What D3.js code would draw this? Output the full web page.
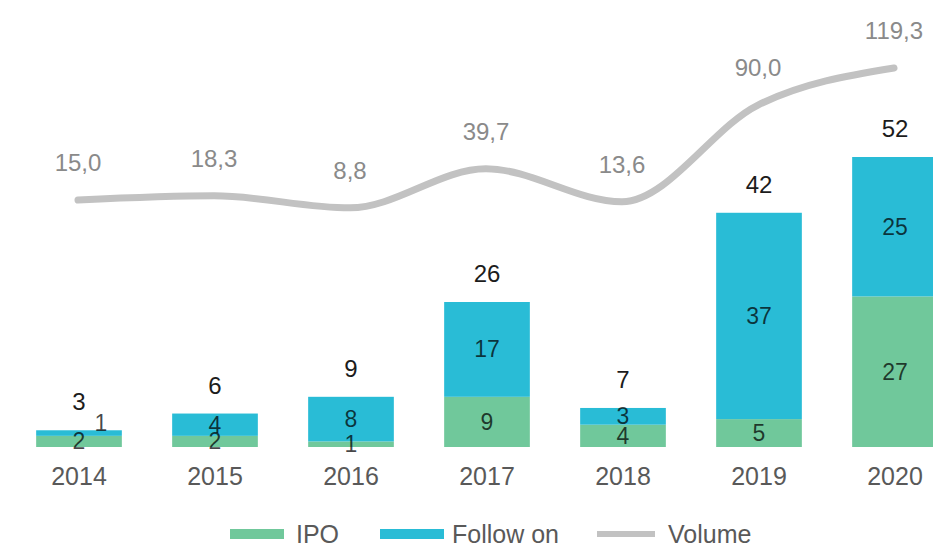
<!DOCTYPE html>
<html>
<head>
<meta charset="utf-8">
<script src="https://cdn.jsdelivr.net/npm/d3@7"></script>
<style>
  html, body { margin: 0; padding: 0; background: #fff; }
  svg { display: block; font-family: "Liberation Sans", Arial, sans-serif; }
</style>
</head>
<body>
<svg id="chart" width="933" height="544"></svg>
<script>
// Deal counts per year (IPO + follow-on) and total volume
const years = ["2014", "2015", "2016", "2017", "2018", "2019", "2020"];
const ipo = [2, 2, 1, 9, 4, 5, 27];
const followOn = [1, 4, 8, 17, 3, 37, 25];
const totals = [3, 6, 9, 26, 7, 42, 52];
const volume = [15.0, 18.3, 8.8, 39.7, 13.6, 90.0, 119.3];
const legendLabels = ["IPO", "Follow on", "Volume"];

const colors = { ipo: "#70c89b", follow: "#29bcd6", volume: "#c2c2c2" };

const svg = d3.select("#chart");

const x = d3.scaleBand().domain(years).range([11, 963]).paddingInner(0.37).paddingOuter(0.185);
const yBar = d3.scaleLinear().domain([0, 52]).range([447, 157]);
const yLine = d3.scaleLinear().domain([0, 119.3]).range([219, 68]);

const fmt = d3.formatLocale({ decimal: ",", thousands: "." }).format(".1f");

const rows = years.map((y, i) => ({ year: y, ipo: ipo[i], follow: followOn[i], total: totals[i], volume: volume[i] }));
const stack = d3.stack().keys(["ipo", "follow"])(rows);

// Stacked bars
const gBars = svg.append("g");
stack.forEach(layer => {
  gBars.selectAll(null)
    .data(layer)
    .join("rect")
    .attr("x", d => x(d.data.year))
    .attr("width", x.bandwidth())
    .attr("y", d => yBar(d[1]))
    .attr("height", d => yBar(d[0]) - yBar(d[1]))
    .attr("fill", layer.key === "ipo" ? colors.ipo : colors.follow);
});

// Segment value labels (very thin top segments get nudged up and right)
stack.forEach(layer => {
  gBars.selectAll(null)
    .data(layer)
    .join("text")
    .attr("x", d => {
      const h = yBar(d[0]) - yBar(d[1]);
      return x(d.data.year) + x.bandwidth() / 2 + (layer.key === "follow" && h < 8 ? 22 : 0);
    })
    .attr("y", d => {
      const h = yBar(d[0]) - yBar(d[1]);
      const c = (yBar(d[0]) + yBar(d[1])) / 2;
      return (layer.key === "follow" && h < 8 ? c - 10 : c);
    })
    .attr("dy", "0.35em")
    .attr("text-anchor", "middle")
    .attr("font-size", 23)
    .attr("fill", "#000")
    .attr("fill-opacity", 0.72)
    .text(d => d.data[layer.key]);
});

// Totals above bars
gBars.selectAll(".total")
  .data(rows)
  .join("text")
  .attr("class", "total")
  .attr("x", d => x(d.year) + x.bandwidth() / 2)
  .attr("y", d => yBar(d.total) - 20)
  .attr("text-anchor", "middle")
  .attr("font-size", 24)
  .attr("fill", "#1c1c1c")
  .text(d => d.total);

// Year axis
const axis = svg.append("g")
  .attr("transform", "translate(0,485)")
  .call(d3.axisBottom(x).tickSize(0).tickPadding(0));
axis.select(".domain").remove();
axis.selectAll("text")
  .attr("y", 0)
  .attr("dy", 0)
  .attr("font-size", 25)
  .attr("font-family", "Liberation Sans, Arial, sans-serif")
  .attr("fill", "#595959");

// Volume line
const cx = d => x(d.year) + x.bandwidth() / 2 - 1;
const line = d3.line()
  .x(cx)
  .y(d => yLine(d.volume))
  .curve(d3.curveMonotoneX);

svg.append("path")
  .datum(rows)
  .attr("d", line)
  .attr("fill", "none")
  .attr("stroke", colors.volume)
  .attr("stroke-width", 7)
  .attr("stroke-linecap", "round")
  .attr("stroke-linejoin", "round");

svg.selectAll(".vol")
  .data(rows)
  .join("text")
  .attr("class", "vol")
  .attr("x", cx)
  .attr("y", d => yLine(d.volume) - 29)
  .attr("text-anchor", "middle")
  .attr("font-size", 24)
  .attr("fill", "#8a8a8a")
  .text(d => fmt(d.volume));

// Legend
const legend = svg.append("g").attr("transform", "translate(0,534)");
const legendItems = [
  { label: legendLabels[0], color: colors.ipo, x: 230, w: 54, h: 10, tx: 296 },
  { label: legendLabels[1], color: colors.follow, x: 380, w: 64, h: 10, tx: 452 },
  { label: legendLabels[2], color: colors.volume, x: 597, w: 58, h: 6, tx: 668 }
];
legendItems.forEach(it => {
  legend.append("rect")
    .attr("x", it.x).attr("y", -it.h / 2)
    .attr("width", it.w).attr("height", it.h)
    .attr("fill", it.color);
  legend.append("text")
    .attr("x", it.tx).attr("y", 9)
    .attr("font-size", 25)
    .attr("fill", "#595959")
    .text(it.label);
});
</script>
</body>
</html>
